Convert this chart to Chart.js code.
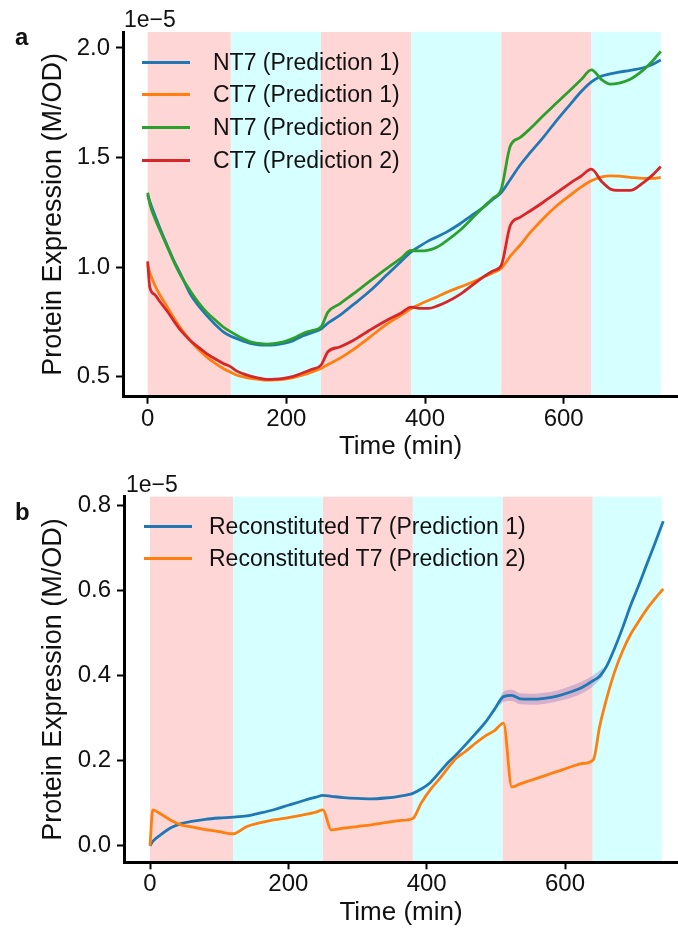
<!DOCTYPE html>
<html>
<head>
<meta charset="utf-8">
<script src="https://cdn.jsdelivr.net/npm/chart.js@4.4.0/dist/chart.umd.min.js"></script>
<style>
  html, body { margin: 0; padding: 0; background: #fff; }
  #page { position: relative; width: 678px; height: 934px; overflow: hidden;
          font-family: "Liberation Sans", Arial, sans-serif; color: #111; }
  #page canvas { position: absolute; left: 0; }
  .tag { position: absolute; line-height: 1; white-space: nowrap; }
  .panel { font-weight: bold; font-size: 24px; }
  .offset { font-size: 23px; }
  .legend { position: absolute; font-size: 23px; white-space: nowrap; }
  .legend .row { display: flex; align-items: center; }
  .legend .swatch { width: 48px; height: 3px; flex: none; }
</style>
</head>
<body>
<div id="page">
  <canvas id="chartA" width="678" height="470" style="top:0"></canvas>
  <canvas id="chartB" width="678" height="464" style="top:470px"></canvas>
  <div class="tag panel" style="left:15px;top:25px">a</div>
  <div class="tag panel" style="left:15px;top:500px">b</div>
  <div class="tag offset" style="left:124px;top:8px">1e−5</div>
  <div class="tag offset" style="left:126px;top:473px">1e−5</div>
  <div class="legend" id="legendA" style="left:142px;top:46px"></div>
  <div class="legend" id="legendB" style="left:144px;top:511px"></div>
</div>
<script>
// light / dark phases (min) and their shading
const bandEdges = [0, 120, 250, 380, 510, 640, 740];
const bandColors = ['#ffd6d6', '#d6ffff'];

const timeTicks = [0, 200, 400, 600];
const ticksA = [0.5, 1.0, 1.5, 2.0];
const ticksB = [0.0, 0.2, 0.4, 0.6, 0.8];

// panel a: split T7 predictions (x1e-5 M/OD)
const timeA = [0, 3, 10, 18, 28, 37, 48, 61, 73, 85, 97, 109, 120, 128, 138, 148, 160, 172, 184, 196,
  210, 224, 236, 250, 260, 277, 297, 320, 345, 365, 380, 392, 405, 417, 431, 450, 467, 484, 498, 510,
  523, 537, 551, 570, 590, 610, 625, 640, 655, 667, 680, 696, 715, 728, 740];
const nt7Pred1 = [1.33, 1.30, 1.24, 1.175, 1.10, 1.035, 0.965, 0.88, 0.825, 0.78, 0.74, 0.705, 0.685, 0.675, 0.662, 0.652, 0.646, 0.644, 0.646, 0.652,
  0.665, 0.687, 0.70, 0.718, 0.745, 0.78, 0.83, 0.89, 0.965, 1.025, 1.07, 1.095, 1.12, 1.138, 1.16, 1.197, 1.235, 1.273, 1.31, 1.34,
  1.40, 1.465, 1.52, 1.59, 1.67, 1.745, 1.80, 1.845, 1.872, 1.882, 1.89, 1.898, 1.91, 1.925, 1.945];
const ct7Pred1 = [1.008, 0.975, 0.92, 0.871, 0.82, 0.773, 0.72, 0.667, 0.625, 0.591, 0.562, 0.538, 0.52, 0.508, 0.499, 0.493, 0.488, 0.485, 0.486, 0.488,
  0.496, 0.508, 0.521, 0.538, 0.556, 0.584, 0.625, 0.68, 0.74, 0.78, 0.811, 0.83, 0.848, 0.864, 0.885, 0.909, 0.93, 0.955, 0.975, 0.995,
  1.05, 1.10, 1.155, 1.22, 1.28, 1.33, 1.365, 1.394, 1.412, 1.417, 1.415, 1.41, 1.405, 1.405, 1.41];
const nt7Pred2 = [1.34, 1.29, 1.225, 1.167, 1.095, 1.03, 0.96, 0.894, 0.84, 0.795, 0.76, 0.727, 0.705, 0.69, 0.673, 0.659, 0.652, 0.649, 0.652, 0.659,
  0.675, 0.697, 0.71, 0.727, 0.795, 0.833, 0.879, 0.935, 0.995, 1.04, 1.076, 1.074, 1.078, 1.091, 1.12, 1.167, 1.22, 1.273, 1.315, 1.356,
  1.553, 1.591, 1.63, 1.69, 1.75, 1.81, 1.855, 1.90, 1.855, 1.835, 1.84, 1.857, 1.90, 1.94, 1.985];
const ct7Pred2 = [1.026, 0.909, 0.875, 0.841, 0.80, 0.758, 0.71, 0.667, 0.635, 0.606, 0.582, 0.561, 0.545, 0.527, 0.513, 0.503, 0.494, 0.488, 0.489, 0.493,
  0.502, 0.518, 0.533, 0.553, 0.614, 0.636, 0.667, 0.712, 0.758, 0.79, 0.818, 0.812, 0.812, 0.822, 0.841, 0.875, 0.915, 0.955, 0.983, 1.008,
  1.19, 1.227, 1.255, 1.295, 1.34, 1.385, 1.415, 1.447, 1.39, 1.357, 1.35, 1.35, 1.386, 1.42, 1.459];

// panel b: reconstituted T7
const timeB = [0, 4, 15, 30, 45, 60, 80, 100, 120, 140, 160, 180, 200, 220, 240, 250, 262, 280, 300, 320,
  340, 360, 380, 392, 405, 420, 432, 443, 455, 470, 485, 498, 511, 523, 535, 550, 570, 590, 610, 625,
  641, 650, 660, 672, 684, 695, 705, 718, 730, 742];
const recPred1 = [0.0, 0.01, 0.025, 0.042, 0.052, 0.057, 0.062, 0.065, 0.067, 0.07, 0.077, 0.085, 0.095, 0.105, 0.114, 0.118, 0.116, 0.113, 0.111, 0.11,
  0.112, 0.116, 0.123, 0.133, 0.148, 0.175, 0.197, 0.214, 0.235, 0.262, 0.29, 0.32, 0.35, 0.353, 0.345, 0.344, 0.346, 0.352, 0.362, 0.372,
  0.388, 0.398, 0.421, 0.465, 0.515, 0.565, 0.605, 0.66, 0.71, 0.762];
const recPred2 = [0.0, 0.084, 0.075, 0.06, 0.049, 0.044, 0.038, 0.033, 0.028, 0.045, 0.054, 0.061, 0.066, 0.072, 0.079, 0.084, 0.037, 0.041, 0.045, 0.049,
  0.054, 0.059, 0.064, 0.10, 0.131, 0.16, 0.185, 0.206, 0.22, 0.24, 0.258, 0.27, 0.288, 0.138, 0.145, 0.153, 0.164, 0.175, 0.186, 0.193,
  0.202, 0.28, 0.345, 0.41, 0.46, 0.497, 0.523, 0.555, 0.58, 0.603];
// spread around prediction 1 during the third light phase
const shadeTime = [505, 511, 523, 535, 550, 570, 590, 610, 625, 641, 655];
const shadeHi = [0.343, 0.362, 0.366, 0.358, 0.357, 0.359, 0.365, 0.376, 0.386, 0.401, 0.418];
const shadeLo = [0.327, 0.338, 0.340, 0.332, 0.331, 0.333, 0.339, 0.348, 0.358, 0.375, 0.398];

const BLUE = '#1f77b4', ORANGE = '#ff7f0e', GREEN = '#2ca02c', RED = '#d62728';
const INK = '#111';

Chart.defaults.font.family = '"Liberation Sans", Arial, sans-serif';
Chart.defaults.color = INK;

function pts(ts, vs) {
  return ts.map((t, i) => ({ x: t, y: vs[i] }));
}

function series(label, ts, vs, color, order) {
  return {
    label, data: pts(ts, vs), borderColor: color, backgroundColor: color,
    borderWidth: 2.8, pointRadius: 0, fill: false,
    cubicInterpolationMode: 'monotone', order,
  };
}

const phaseBands = {
  id: 'phaseBands',
  beforeDraw(chart) {
    const { ctx, chartArea: area, scales: { x } } = chart;
    ctx.save();
    for (let i = 0; i < bandEdges.length - 1; i++) {
      const x0 = x.getPixelForValue(bandEdges[i]);
      const x1 = x.getPixelForValue(bandEdges[i + 1]);
      ctx.fillStyle = bandColors[i % 2];
      ctx.fillRect(x0, area.top, x1 - x0, area.bottom - area.top);
    }
    ctx.restore();
  }
};

function makeOptions(c) {
  return {
    responsive: false,
    animation: false,
    events: [],
    layout: { padding: { top: c.top, left: 0, right: 0, bottom: 0 } },
    plugins: { legend: { display: false }, tooltip: { enabled: false } },
    scales: {
      x: {
        type: 'linear', min: c.xMin, max: c.xMax,
        afterFit: s => { s.height = c.xAxisH; },
        afterBuildTicks: s => { s.ticks = timeTicks.map(v => ({ value: v })); },
        grid: { drawOnChartArea: false, tickLength: 7, tickWidth: 2, tickColor: '#000' },
        border: { display: true, color: '#000', width: 3 },
        ticks: { padding: 1, color: INK, font: { size: 24 }, callback: v => String(v) },
        title: { display: true, text: 'Time (min)', color: INK, font: { size: 26 },
                 padding: { top: 0, bottom: c.xTitlePad } }
      },
      y: {
        min: c.yMin, max: c.yMax,
        afterFit: s => { s.width = c.yAxisW; },
        afterBuildTicks: s => { s.ticks = c.yTicks.map(v => ({ value: v })); },
        grid: { drawOnChartArea: false, tickLength: 7, tickWidth: 2, tickColor: '#000' },
        border: { display: true, color: '#000', width: 3 },
        ticks: { padding: 6, color: INK, font: { size: 24 }, callback: v => v.toFixed(1) },
        title: { display: true, text: 'Protein Expression (M/OD)', color: INK, font: { size: 27 },
                 padding: { top: 37, bottom: 0 } }
      }
    }
  };
}

function buildLegend(chart, id, rowH, gap) {
  const box = document.getElementById(id);
  chart.data.datasets.filter(d => !d.noLegend).forEach(d => {
    const row = document.createElement('div');
    row.className = 'row';
    row.style.height = rowH + 'px';
    const sw = document.createElement('span');
    sw.className = 'swatch';
    sw.style.background = d.borderColor;
    const txt = document.createElement('span');
    txt.textContent = d.label;
    txt.style.marginLeft = gap + 'px';
    row.appendChild(sw);
    row.appendChild(txt);
    box.appendChild(row);
  });
}

const chartA = new Chart(document.getElementById('chartA'), {
  type: 'line',
  data: {
    datasets: [
      series('NT7 (Prediction 1)', timeA, nt7Pred1, BLUE, 4),
      series('CT7 (Prediction 1)', timeA, ct7Pred1, ORANGE, 3),
      series('NT7 (Prediction 2)', timeA, nt7Pred2, GREEN, 2),
      series('CT7 (Prediction 2)', timeA, ct7Pred2, RED, 1),
    ]
  },
  options: makeOptions({
    top: 32, xAxisH: 73.3, yAxisW: 123, xTitlePad: 8,
    xMin: -35.6, xMax: 764.9, yMin: 0.409, yMax: 2.073, yTicks: ticksA
  }),
  plugins: [phaseBands]
});

const chartB = new Chart(document.getElementById('chartB'), {
  type: 'line',
  data: {
    datasets: [
      series('Reconstituted T7 (Prediction 1)', timeB, recPred1, BLUE, 2),
      series('Reconstituted T7 (Prediction 2)', timeB, recPred2, ORANGE, 1),
      { label: 'spread hi', data: pts(shadeTime, shadeHi), borderWidth: 0, pointRadius: 0,
        backgroundColor: 'rgba(125, 95, 185, 0.32)', fill: '+1', order: 10, noLegend: true,
        cubicInterpolationMode: 'monotone' },
      { label: 'spread lo', data: pts(shadeTime, shadeLo), borderWidth: 0, pointRadius: 0,
        fill: false, order: 10, noLegend: true, cubicInterpolationMode: 'monotone' },
    ]
  },
  options: makeOptions({
    top: 26.7, xAxisH: 71.7, yAxisW: 124, xTitlePad: 6,
    xMin: -37.6, xMax: 763.3, yMin: -0.039, yMax: 0.8195, yTicks: ticksB
  }),
  plugins: [phaseBands]
});

buildLegend(chartA, 'legendA', 32.6, 23);
buildLegend(chartB, 'legendB', 31.6, 17);
</script>
</body>
</html>
